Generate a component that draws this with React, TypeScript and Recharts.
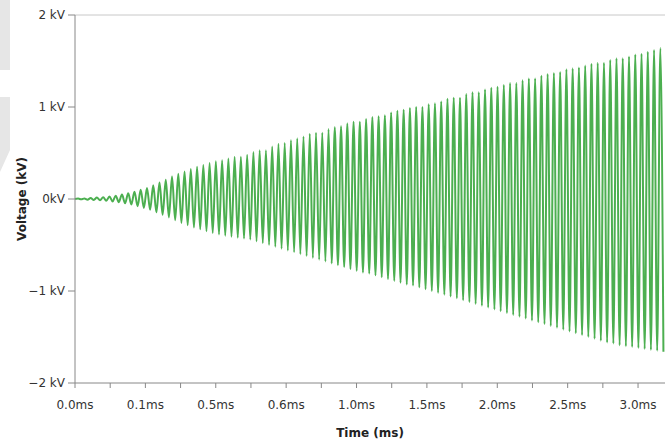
import React from "react";
import {
  Label,
  Line,
  LineChart,
  ReferenceLine,
  XAxis,
  YAxis
} from "recharts";

// positive peak of each cycle (kV), left to right
const upperPeaks: number[] = [
  0.005, 0.006, 0.01, 0.015, 0.02, 0.027, 0.036, 0.048, 0.062, 0.08,
  0.10, 0.12, 0.15, 0.18, 0.21, 0.245, 0.275, 0.30, 0.325, 0.35,
  0.37, 0.39, 0.41, 0.42, 0.44, 0.46, 0.46, 0.48, 0.51, 0.53,
  0.53, 0.57, 0.60, 0.61, 0.64, 0.66, 0.68, 0.71, 0.72, 0.72,
  0.76, 0.78, 0.79, 0.82, 0.84, 0.84, 0.87, 0.89, 0.90, 0.91,
  0.94, 0.96, 0.97, 0.99, 1.00, 1.00, 1.03, 1.04, 1.06, 1.09,
  1.10, 1.10, 1.14, 1.16, 1.16, 1.19, 1.21, 1.22, 1.24, 1.26,
  1.26, 1.29, 1.31, 1.31, 1.34, 1.36, 1.37, 1.38, 1.41, 1.42,
  1.43, 1.45, 1.47, 1.48, 1.48, 1.51, 1.53, 1.53, 1.55, 1.57,
  1.58, 1.60, 1.62, 1.64,
];

// negative peak of each cycle (kV)
const lowerPeaks: number[] = [
  -0.004, -0.007, -0.01, -0.014, -0.02, -0.026, -0.034, -0.046, -0.06, -0.078,
  -0.098, -0.118, -0.145, -0.172, -0.2, -0.23, -0.26, -0.285, -0.31, -0.33,
  -0.35, -0.37, -0.385, -0.40, -0.41, -0.42, -0.43, -0.44, -0.46, -0.48,
  -0.50, -0.52, -0.54, -0.56, -0.58, -0.60, -0.62, -0.64, -0.66, -0.68,
  -0.70, -0.72, -0.74, -0.76, -0.78, -0.80, -0.81, -0.83, -0.85, -0.87,
  -0.89, -0.91, -0.93, -0.94, -0.96, -0.98, -1.00, -1.02, -1.04, -1.06,
  -1.08, -1.10, -1.12, -1.14, -1.16, -1.18, -1.20, -1.22, -1.24, -1.26,
  -1.28, -1.30, -1.32, -1.34, -1.36, -1.38, -1.40, -1.42, -1.44, -1.46,
  -1.48, -1.50, -1.52, -1.54, -1.56, -1.57, -1.59, -1.60, -1.61, -1.62,
  -1.63, -1.64, -1.65, -1.66,
];

const xTickLabels = ["0.0ms", "0.1ms", "0.5ms", "0.6ms", "1.0ms", "1.5ms", "2.0ms", "2.5ms", "3.0ms"];
const yTicks = [-2, -1, 0, 1, 2];
const yTickLabels = ["\u22122 kV", "\u22121 kV", "0kV", "1 kV", "2 kV"];

// x runs in "tick units"; the plot spans a bit more than 8 of them
const X_MAX = 8.383;
const HALF_STEP = X_MAX / (upperPeaks.length * 2 + 0.5);

const data: { t: number; v: number }[] = [{ t: 0, v: 0 }];
upperPeaks.forEach((u, k) => {
  data.push({ t: (2 * k + 1) * HALF_STEP, v: u });
  data.push({ t: (2 * k + 2) * HALF_STEP, v: lowerPeaks[k] });
});

const xTicks: number[] = [];
for (let i = 0; i <= 16; i++) xTicks.push(i / 2);

const font = "'DejaVu Sans', sans-serif";

export default function App() {
  return (
    <div style={{ position: "absolute", left: 0, top: 0, width: 670, height: 441, background: "#fff" }}>
      <svg width={670} height={441} style={{ position: "absolute", left: 0, top: 0 }}>
        <rect x={0} y={0} width={10} height={70} fill="#e6e6e6" />
        <polygon points="0,97 10,97 10,150 0,172" fill="#e6e6e6" />
      </svg>
      <div style={{ position: "absolute", left: 0, top: 0 }}>
        <LineChart width={670} height={441} data={data} margin={{ top: 15, right: 5, bottom: 0, left: 1 }}>
          <ReferenceLine y={2} stroke="#c8c8c8" />
          <XAxis
            dataKey="t"
            type="number"
            domain={[0, X_MAX]}
            ticks={xTicks}
            interval={0}
            tickFormatter={(v: number) => (Number.isInteger(v) ? xTickLabels[v] : "")}
            height={58}
            stroke="#888"
            tickSize={5}
            tickMargin={12}
            tick={{ fill: "#333", fontSize: 12, fontFamily: font }}
          >
            <Label
              value="Time (ms)"
              position="insideBottom"
              offset={4}
              style={{ fill: "#222", fontSize: 12, fontWeight: "bold", fontFamily: font }}
            />
          </XAxis>
          <YAxis
            type="number"
            domain={[-2, 2]}
            ticks={yTicks}
            interval={0}
            tickFormatter={(v: number) => yTickLabels[yTicks.indexOf(v)]}
            width={74}
            stroke="#888"
            tickSize={7}
            tickMargin={3}
            tick={{ fill: "#333", fontSize: 12, fontFamily: font }}
          >
            <Label
              value="Voltage (kV)"
              angle={-90}
              position="insideLeft"
              offset={21}
              style={{ textAnchor: "middle", fill: "#222", fontSize: 12, fontWeight: "bold", fontFamily: font }}
            />
          </YAxis>
          <Line
            dataKey="v"
            type="monotone"
            stroke="#4caf50"
            strokeWidth={2}
            dot={false}
            isAnimationActive={false}
          />
        </LineChart>
      </div>
    </div>
  );
}
